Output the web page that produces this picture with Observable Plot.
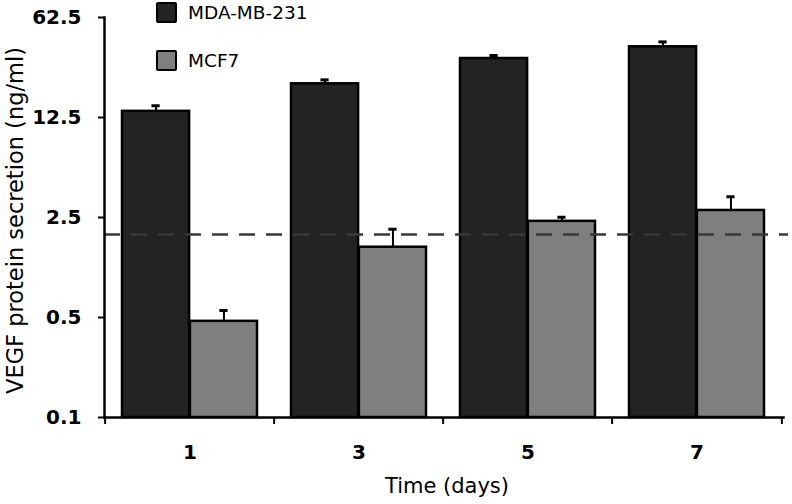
<!DOCTYPE html>
<html>
<head>
<meta charset="utf-8">
<script src="https://cdn.jsdelivr.net/npm/d3@7"></script>
<script src="https://cdn.jsdelivr.net/npm/@observablehq/plot@0.6"></script>
<style>
  body { margin: 0; background: #fff; }
  #wrap { position: relative; width: 792px; height: 504px; font-family: "DejaVu Sans", sans-serif; }
  #wrap svg { position: absolute; left: 0; top: 0; }
  .legend { position: absolute; left: 156px; top: 2px; }
  .item { display: flex; align-items: center; height: 21px; margin-bottom: 27px; }
  .sw { width: 17px; height: 17px; border: 2px solid #000; border-radius: 2px; margin-right: 11px; }
  .lab { font-size: 18.5px; color: #000; }
</style>
</head>
<body>
<div id="wrap"></div>
<script>
const days = ["1", "3", "5", "7"];
const series = ["MDA-MB-231", "MCF7"];
const mdaValues = [13.8, 21.5, 32.3, 39.0];
const mdaUpper = [15.1, 22.9, 33.9, 42.2];
const mcf7Values = [0.47, 1.55, 2.35, 2.80];
const mcf7Upper = [0.56, 2.07, 2.51, 3.49];
const colors = ["#232323", "#7f7f7f"];
const yTicks = [0.1, 0.5, 2.5, 12.5, 62.5];
const yDomain = [0.1, 62.5];
const threshold = 1.9;
const xTitle = "Time (days)";
const yTitle = "VEGF protein secretion (ng/ml)";

const seriesValues = [mdaValues, mcf7Values];
const seriesUpper = [mdaUpper, mcf7Upper];
const tables = series.map((s, i) => days.map((d, j) => ({day: d, series: s, value: seriesValues[i][j], upper: seriesUpper[i][j]})));

const W = 792, H = 504, mL = 104, mR = 9, mT = 17, mB = 87;
const frameW = W - mL - mR;
const padIn = 0.2, padOut = 0.1;
const step = frameW / (days.length - padIn + 2 * padOut);
const bw = step * (1 - padIn);           // width of one day group
const half = bw / series.length;         // width of one bar
const capW = 9;
const font = "DejaVu Sans, sans-serif";

const seriesMarks = series.flatMap((s, i) => {
  const left = i * half, right = bw - (i + 1) * half;
  return [
    Plot.barY(tables[i], {x: "day", y1: () => yDomain[0], y2: "value", fill: "series",
      stroke: "#000", strokeWidth: 2.5, insetLeft: left, insetRight: right}),
    Plot.ruleX(tables[i], {x: "day", y1: "value", y2: "upper", dx: left + half / 2 - bw / 2,
      stroke: "#000", strokeWidth: 2}),
    Plot.tickY(tables[i], {x: "day", y: "upper", stroke: "#000", strokeWidth: 3,
      insetLeft: left + (half - capW) / 2, insetRight: right + (half - capW) / 2})
  ];
});

const chart = Plot.plot({
  width: W, height: H,
  marginLeft: mL, marginRight: mR, marginTop: mT, marginBottom: mB,
  style: {fontFamily: font, background: "#fff", overflow: "visible", color: "#000"},
  x: {domain: days, paddingInner: padIn, paddingOuter: padOut, axis: null},
  y: {type: "log", domain: yDomain, axis: null},
  color: {domain: series, range: colors},
  marks: [
    ...seriesMarks,
    Plot.ruleY([threshold], {stroke: "#3a3a3a", strokeWidth: 2.5, strokeDasharray: "16,11", insetRight: -5}),
    Plot.frame({anchor: "left", stroke: "#000", strokeWidth: 2.5}),
    Plot.frame({anchor: "bottom", stroke: "#000", strokeWidth: 2.5}),
    // y axis ticks and labels (drawn through the log y scale)
    Plot.ruleY(yTicks, {y: d => d, insetLeft: -6, insetRight: frameW, stroke: "#000", strokeWidth: 2}),
    Plot.text(yTicks, {y: d => d, text: d => String(d), frameAnchor: "left", textAnchor: "end", dx: -23,
      fontSize: 20, fontWeight: "bold"}),
    // x axis labels and boundary ticks
    Plot.axisX({tickSize: 0, tickPadding: 27, fontSize: 20, fontWeight: "bold", label: null}),
    Plot.axisX({tickSize: 7, tickFormat: () => "", dx: -step / 2, strokeWidth: 2, label: null}),
    Plot.axisX(days.slice(-1), {tickSize: 7, tickFormat: () => "", dx: step / 2, strokeWidth: 2, label: null}),
    Plot.text([xTitle], {frameAnchor: "bottom", dy: 75, dx: 3, fontSize: 21, text: d => d}),
    Plot.text([yTitle], {frameAnchor: "left", textAnchor: "middle", dx: -89, dy: 3, rotate: -90, fontSize: 22.5, text: d => d})
  ]
});

const wrap = document.getElementById("wrap");
wrap.appendChild(chart);

const legend = document.createElement("div");
legend.className = "legend";
series.forEach((s, i) => {
  const item = document.createElement("div");
  item.className = "item";
  const sw = document.createElement("div");
  sw.className = "sw";
  sw.style.background = colors[i];
  const lab = document.createElement("span");
  lab.className = "lab";
  lab.textContent = s;
  item.appendChild(sw);
  item.appendChild(lab);
  legend.appendChild(item);
});
wrap.appendChild(legend);
</script>
</body>
</html>
